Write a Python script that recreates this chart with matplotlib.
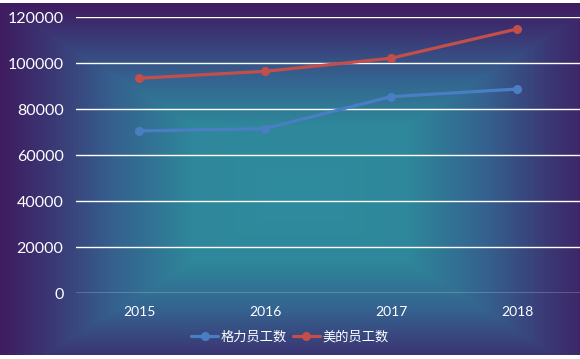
import matplotlib
matplotlib.use('Agg')
import matplotlib.pyplot as plt
from matplotlib.colors import LinearSegmentedColormap
import numpy as np

plt.rcParams['font.family'] = ['Lato', 'Noto Sans CJK SC', 'DejaVu Sans']

years = ['2015', '2016', '2017', '2018']
gree = [70600, 71600, 85500, 88800]
midea = [93500, 96500, 102200, 114900]
names = ['格力员工数', '美的员工数']

W, H = 580, 359
fig = plt.figure(figsize=(W / 100, H / 100), dpi=100, facecolor='white')

# rectangular "path" gradient behind everything
bg = fig.add_axes([0, 4 / H, 1, 352 / H], zorder=-1)
xx, yy = np.meshgrid(np.arange(W), np.arange(352))
r = np.maximum(np.abs(xx - 300) / 300.0, np.abs(yy - 190) / 190.0)
r = np.clip(r, 0, 1)
cmap = LinearSegmentedColormap.from_list('bg', [
    (0.0, '#2f8c9e'), (0.36, '#2e879a'), (0.62, '#35618f'), (0.84, '#3b3674'), (1.0, '#3f1c60')])
bg.imshow(r, cmap=cmap, vmin=0, vmax=1, aspect='auto', interpolation='bilinear')
bg.axis('off')

ax = fig.add_axes([76 / W, 1 - 293.3 / H, 504 / W, 276 / H])
ax.set_facecolor('none')
x = np.arange(len(years))
ax.plot(x, gree, color='#4a7ec4', lw=2.3, marker='o', ms=5.5, label=names[0], solid_capstyle='round')
ax.plot(x, midea, color='#c44e4a', lw=2.3, marker='o', ms=5.5, label=names[1], solid_capstyle='round')

ax.set_xlim(-0.5, 3.5)
ax.set_ylim(0, 120000)
ax.set_yticks(range(0, 120001, 20000))
ax.set_xticks(x)
ax.set_xticklabels(years)
ax.grid(axis='y', color='white', lw=1.0)
ax.set_axisbelow(True)
for s in ax.spines.values():
    s.set_visible(False)
ax.tick_params(length=0, colors='white')
ax.tick_params(axis='y', labelsize=11.5, pad=9)
ax.tick_params(axis='x', labelsize=10, pad=9)

fig.legend(loc='center', bbox_to_anchor=(290 / W, 1 - 336 / H), ncol=2, frameon=False,
           fontsize=9.5, labelcolor='white', handlelength=2.0, handletextpad=0.2,
           columnspacing=0.5, borderpad=0)

fig.savefig('out.png', dpi=100, facecolor='white')
